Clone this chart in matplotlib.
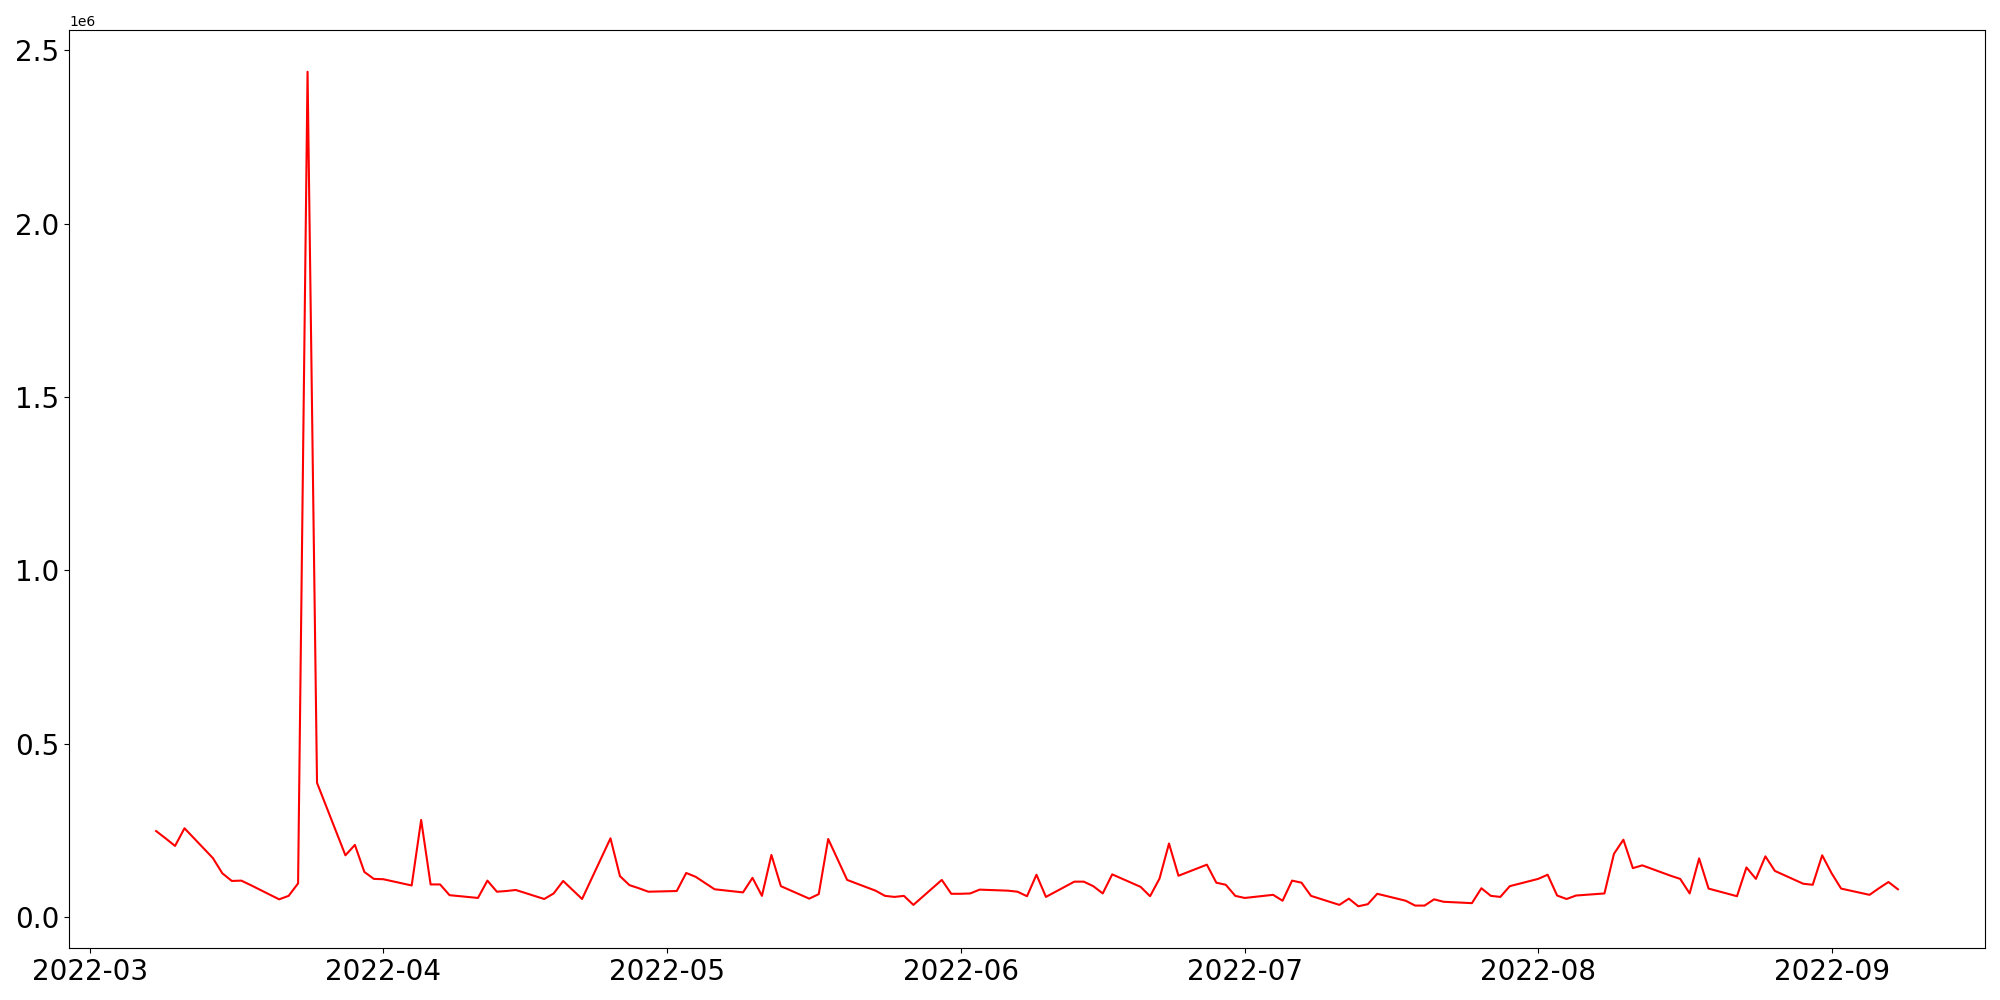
import matplotlib
matplotlib.use('Agg')
import matplotlib.pyplot as plt
import pandas as pd
import numpy as np

# weekday values, one list per month
mar = [248000, 227000, 205000, 256000, 170000, 126000, 104000, 105000, 92000,
       51000, 61000, 97000, 2438000, 387000, 178000, 208000, 130000, 110000]
apr = [109000, 91000, 280000, 94000, 94000, 63000, 55000, 105000, 73000, 75000,
       78000, 52000, 68000, 104000, 78000, 52000, 227000, 118000, 92000, 83000, 73000]
may = [75000, 127000, 116000, 98000, 80000, 71000, 113000, 61000, 179000, 89000,
       53000, 66000, 225000, 166000, 107000, 76000, 61000, 58000, 61000, 35000,
       107000, 67000]
jun = [67000, 68000, 79000, 76000, 73000, 60000, 122000, 58000, 102000, 102000,
       89000, 68000, 123000, 87000, 60000, 111000, 212000, 119000, 151000, 99000,
       93000, 61000]
jul = [55000, 64000, 47000, 105000, 99000, 61000, 35000, 53000, 31000, 37000,
       67000, 47000, 33000, 33000, 51000, 44000, 40000, 83000, 61000, 58000, 89000]
aug = [110000, 122000, 62000, 52000, 62000, 68000, 182000, 223000, 141000, 149000,
       119000, 110000, 68000, 169000, 82000, 60000, 143000, 110000, 175000, 133000,
       96000, 93000, 178000]
sep = [126000, 82000, 64000, 83000, 101000, 80000]

values = np.array(mar + apr + may + jun + jul + aug + sep)
dates = pd.bdate_range('2022-03-08', '2022-09-08')

fig, ax = plt.subplots(figsize=(20, 10), dpi=100)
ax.plot(dates, values, '-r', linewidth=1.5)
ax.tick_params(axis='both', labelsize=20)
fig.subplots_adjust(left=0.0345, right=0.9925, bottom=0.052, top=0.97)
plt.savefig('out.png')
